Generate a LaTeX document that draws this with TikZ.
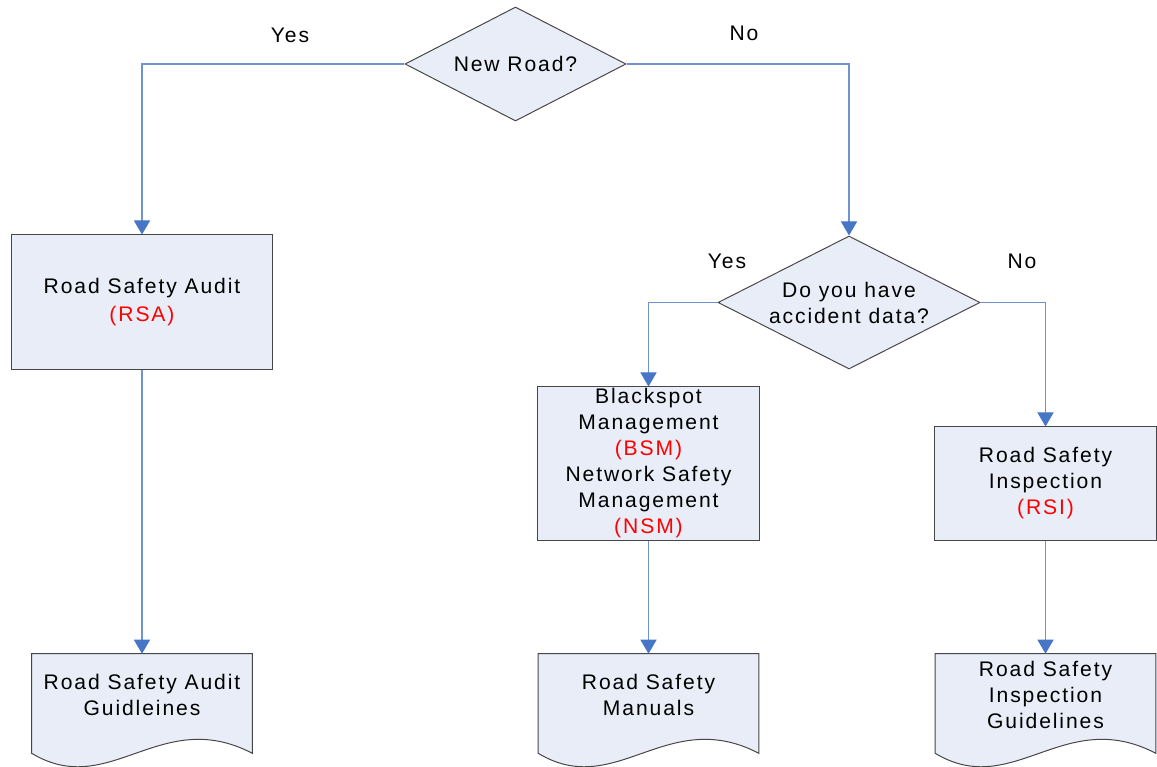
\documentclass[tikz,border=0pt]{standalone}
\usepackage{fontspec}
\setmainfont{Liberation Sans}[LetterSpace=9]
\usepackage{tikz}
\usetikzlibrary{
    positioning,
    arrows.meta,
    shapes.geometric,
    calc,
}
\definecolor{boxfill}{RGB}{232,237,247}
\definecolor{boxline}{RGB}{70,70,70}
\definecolor{linkblue}{RGB}{112,146,208}
\definecolor{tipblue}{RGB}{72,118,198}
\definecolor{abbrred}{RGB}{255,0,0}
\tikzset{
    % Node styles
    process/.style={rectangle, draw=boxline, line width=0.7pt, fill=boxfill,
                    align=center, inner sep=0pt},
    decision/.style={diamond, draw=boxline, line width=0.7pt, fill=boxfill,
                     align=center, inner sep=0pt, aspect=2},
    docbox/.style={rectangle, align=center, inner sep=0pt,
                   minimum width=55mm, minimum height=20.5mm},
    docline/.style={draw=boxline, line width=0.7pt, fill=boxfill},
    % Arrow styles
    link/.style={draw=linkblue, line width=0.75pt,
                 -{Triangle[length=10pt, width=11.5pt, color=tipblue]}},
    % Annotation styles
    answer/.style={font=\fontsize{15}{18}\selectfont},
}
\newcommand{\abbr}[1]{\textcolor{abbrred}{#1}}
% wavy outline under a document node
\newcommand{\docwave}[1]{%
    \path[docline] (#1.north west) -- (#1.north east) -- ($(#1.south east)+(0,17)$)
        .. controls +(-92,-48) and +(78,47) .. ($(#1.south west)+(0,17)$) -- cycle;}

\begin{document}
\begin{tikzpicture}[x=0.025cm, y=-0.025cm,
    every node/.append style={font=\fontsize{15}{18.5}\selectfont},
]
    \useasboundingbox (0,0) rectangle (1157,767);

    % First question
    \node[decision, minimum width=55.25mm, minimum height=28.5mm] (newroad) at (515.5,64) {New Road?};
    \node[answer] (yes1) at (290,35) {Yes};
    \node[answer] (no1) at (744,33) {No};

    % New road
    \node[process, minimum width=65mm, minimum height=33.5mm] (rsa) at (142,302)
        {Road Safety Audit\\[1.5pt]\abbr{(RSA)}};
    \node[docbox] (rsaguide) at (142,695) {};
    \docwave{rsaguide}
    \node[docbox] at (rsaguide) {Road Safety Audit\\Guidleines};

    % Existing road
    \node[decision, minimum width=65.5mm, minimum height=33.25mm] (accdata) at (849,302.5)
        {Do you have\\accident data?};
    \node[answer] (yes2) at (727,261) {Yes};
    \node[answer] (no2) at (1022,261) {No};

    \node[process, minimum width=55.25mm, minimum height=38.25mm] (bsm) at (648.5,463.5)
        {Blackspot\\Management\\\abbr{(BSM)}\\Network Safety\\Management\\\abbr{(NSM)}};
    \node[docbox] (manuals) at (648.5,695) {};
    \docwave{manuals}
    \node[docbox] at (manuals) {Road Safety\\Manuals};

    \node[process, minimum width=55.25mm, minimum height=28.25mm] (rsi) at (1045.5,483.5)
        {Road Safety\\Inspection\\\abbr{(RSI)}};
    \node[docbox] (rsiguide) at (1045.5,695) {};
    \docwave{rsiguide}
    \node[docbox] at (rsiguide) {Road Safety\\Inspection\\Guidelines};

    % Connectors
    \draw[link] (newroad.west) -| (rsa.north);
    \draw[link] (newroad.east) -| (accdata.north);
    \draw[link] (accdata.west) -| (bsm.north);
    \draw[link] (accdata.east) -| (rsi.north);
    \draw[link] (rsa.south) -- (rsaguide.north);
    \draw[link] (bsm.south) -- (manuals.north);
    \draw[link] (rsi.south) -- (rsiguide.north);
\end{tikzpicture}
\end{document}
